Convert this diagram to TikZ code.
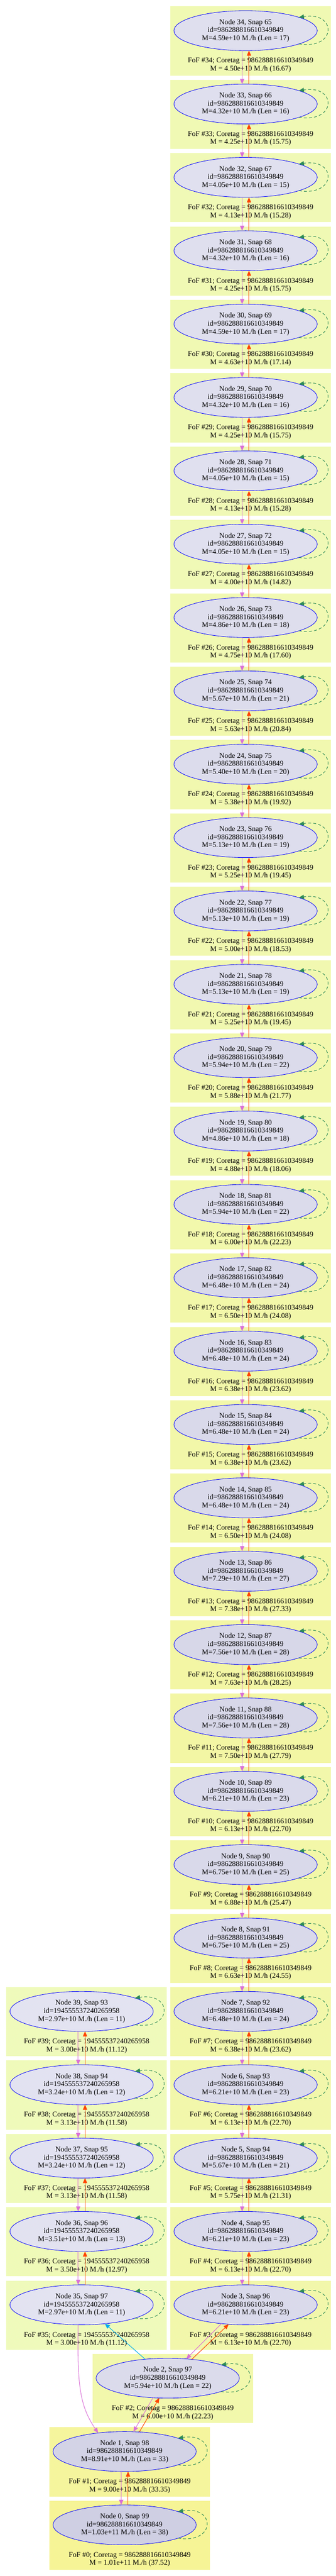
\documentclass[tikz,border=0pt]{standalone}
\usepackage{fontspec}
\setmainfont{Liberation Serif}
\usetikzlibrary{calc, positioning, shapes, arrows.meta, backgrounds}

\definecolor{halolo}{RGB}{227,227,241}
\definecolor{halohi}{RGB}{207,207,227}
\definecolor{foflo}{RGB}{239,250,187}
\definecolor{fofhi}{RGB}{246,244,150}
\definecolor{orchid}{RGB}{218,112,214}
\definecolor{orangered}{RGB}{255,69,0}
\definecolor{seagreen}{RGB}{46,139,87}

\tikzset{
    halo/.style={ellipse, draw=blue, line width=0.8pt, outer sep=0pt, inner sep=0pt,
        minimum width=267.75pt, minimum height=74.55pt, align=center,
        /utils/exec={\pgfmathtruncatemacro\lenmix{(#1-11)*100/27}}, fill=halohi!\lenmix!halolo},
    fof/.style={align=center},
    tip/.style={-{Triangle[length=9.5pt, width=8pt]}},
    prog/.style={tip, draw=orchid, line width=1pt},
    desc/.style={tip, draw=orangered, line width=1pt},
    jump/.style={tip, draw=cyan, line width=1pt},
    selfl/.style={tip, draw=seagreen, line width=1pt, dash pattern=on 5.5pt off 4pt}
}

\begin{document}
\begin{tikzpicture}[x=0.75pt, y=-0.75pt, node distance=62.4pt, font=\fontsize{13.7}{15}\selectfont]
                    \node[halo=17] (34) {Node 34, Snap 65\\id=986288816610349849\\M=4.59e+10 M./h (Len = 17)};
                    \node[halo=16] (33) [below=of 34] {Node 33, Snap 66\\id=986288816610349849\\M=4.32e+10 M./h (Len = 16)};
                    \node[halo=15] (32) [below=of 33] {Node 32, Snap 67\\id=986288816610349849\\M=4.05e+10 M./h (Len = 15)};
                    \node[halo=16] (31) [below=of 32] {Node 31, Snap 68\\id=986288816610349849\\M=4.32e+10 M./h (Len = 16)};
                    \node[halo=17] (30) [below=of 31] {Node 30, Snap 69\\id=986288816610349849\\M=4.59e+10 M./h (Len = 17)};
                    \node[halo=16] (29) [below=of 30] {Node 29, Snap 70\\id=986288816610349849\\M=4.32e+10 M./h (Len = 16)};
                    \node[halo=15] (28) [below=of 29] {Node 28, Snap 71\\id=986288816610349849\\M=4.05e+10 M./h (Len = 15)};
                    \node[halo=15] (27) [below=of 28] {Node 27, Snap 72\\id=986288816610349849\\M=4.05e+10 M./h (Len = 15)};
                    \node[halo=18] (26) [below=of 27] {Node 26, Snap 73\\id=986288816610349849\\M=4.86e+10 M./h (Len = 18)};
                    \node[halo=21] (25) [below=of 26] {Node 25, Snap 74\\id=986288816610349849\\M=5.67e+10 M./h (Len = 21)};
                    \node[halo=20] (24) [below=of 25] {Node 24, Snap 75\\id=986288816610349849\\M=5.40e+10 M./h (Len = 20)};
                    \node[halo=19] (23) [below=of 24] {Node 23, Snap 76\\id=986288816610349849\\M=5.13e+10 M./h (Len = 19)};
                    \node[halo=19] (22) [below=of 23] {Node 22, Snap 77\\id=986288816610349849\\M=5.13e+10 M./h (Len = 19)};
                    \node[halo=19] (21) [below=of 22] {Node 21, Snap 78\\id=986288816610349849\\M=5.13e+10 M./h (Len = 19)};
                    \node[halo=22] (20) [below=of 21] {Node 20, Snap 79\\id=986288816610349849\\M=5.94e+10 M./h (Len = 22)};
                    \node[halo=18] (19) [below=of 20] {Node 19, Snap 80\\id=986288816610349849\\M=4.86e+10 M./h (Len = 18)};
                    \node[halo=22] (18) [below=of 19] {Node 18, Snap 81\\id=986288816610349849\\M=5.94e+10 M./h (Len = 22)};
                    \node[halo=24] (17) [below=of 18] {Node 17, Snap 82\\id=986288816610349849\\M=6.48e+10 M./h (Len = 24)};
                    \node[halo=24] (16) [below=of 17] {Node 16, Snap 83\\id=986288816610349849\\M=6.48e+10 M./h (Len = 24)};
                    \node[halo=24] (15) [below=of 16] {Node 15, Snap 84\\id=986288816610349849\\M=6.48e+10 M./h (Len = 24)};
                    \node[halo=24] (14) [below=of 15] {Node 14, Snap 85\\id=986288816610349849\\M=6.48e+10 M./h (Len = 24)};
                    \node[halo=27] (13) [below=of 14] {Node 13, Snap 86\\id=986288816610349849\\M=7.29e+10 M./h (Len = 27)};
                    \node[halo=28] (12) [below=of 13] {Node 12, Snap 87\\id=986288816610349849\\M=7.56e+10 M./h (Len = 28)};
                    \node[halo=28] (11) [below=of 12] {Node 11, Snap 88\\id=986288816610349849\\M=7.56e+10 M./h (Len = 28)};
                    \node[halo=23] (10) [below=of 11] {Node 10, Snap 89\\id=986288816610349849\\M=6.21e+10 M./h (Len = 23)};
                    \node[halo=25] (9) [below=of 10] {Node 9, Snap 90\\id=986288816610349849\\M=6.75e+10 M./h (Len = 25)};
                    \node[halo=25] (8) [below=of 9] {Node 8, Snap 91\\id=986288816610349849\\M=6.75e+10 M./h (Len = 25)};
                    \node[halo=24] (7) [below=of 8] {Node 7, Snap 92\\id=986288816610349849\\M=6.48e+10 M./h (Len = 24)};
                    \node[halo=23] (6) [below=of 7] {Node 6, Snap 93\\id=986288816610349849\\M=6.21e+10 M./h (Len = 23)};
                    \node[halo=21] (5) [below=of 6] {Node 5, Snap 94\\id=986288816610349849\\M=5.67e+10 M./h (Len = 21)};
                    \node[halo=23] (4) [below=of 5] {Node 4, Snap 95\\id=986288816610349849\\M=6.21e+10 M./h (Len = 23)};
                    \node[halo=23] (3) [below=of 4] {Node 3, Snap 96\\id=986288816610349849\\M=6.21e+10 M./h (Len = 23)};

                    \node[halo=11] (39) [left=38.7pt of 7] {Node 39, Snap 93\\id=194555537240265958\\M=2.97e+10 M./h (Len = 11)};
                    \node[halo=12] (38) [below=of 39] {Node 38, Snap 94\\id=194555537240265958\\M=3.24e+10 M./h (Len = 12)};
                    \node[halo=12] (37) [below=of 38] {Node 37, Snap 95\\id=194555537240265958\\M=3.24e+10 M./h (Len = 12)};
                    \node[halo=13] (36) [below=of 37] {Node 36, Snap 96\\id=194555537240265958\\M=3.51e+10 M./h (Len = 13)};
                    \node[halo=11] (35) [below=of 36] {Node 35, Snap 97\\id=194555537240265958\\M=2.97e+10 M./h (Len = 11)};

                    \node[halo=22] (2) [below=of 3, xshift=-145.5pt] {Node 2, Snap 97\\id=986288816610349849\\M=5.94e+10 M./h (Len = 22)};
                    \node[halo=33] (1) [below=of 2, xshift=-80.55pt] {Node 1, Snap 98\\id=986288816610349849\\M=8.91e+10 M./h (Len = 33)};
                    \node[halo=38] (0) [below=of 1] {Node 0, Snap 99\\id=986288816610349849\\M=1.03e+11 M./h (Len = 38)};

                    \useasboundingbox ($(34)+(-612,-76.3)$) rectangle ($(34)+(225,6335.7)$);

                    \begin{scope}[on background layer]
                    \foreach \n/\l in {34/17, 33/16, 32/15, 31/16, 30/17, 29/16, 28/15, 27/15, 26/18, 25/21, 24/20, 23/19, 22/19, 21/19, 20/22, 19/18, 18/22, 17/24, 16/24, 15/24, 14/24, 13/27, 12/28, 11/28, 10/23, 9/25, 8/25, 7/24, 6/23, 5/21, 4/23, 3/23, 2/22, 1/33, 0/38, 39/11, 38/12, 37/12, 36/13, 35/11} {
                        \pgfmathtruncatemacro\lenmix{(\l-11)*100/27}
                        \fill[fofhi!\lenmix!foflo] ($(\n)+(-187.5,-60.3)$) rectangle ($(\n)+(212.7,111.7)$);
                    }
                    \end{scope}

                    \node[fof] (f34) at ($(34)+(12.6,86)$) {FoF \#34; Coretag = 986288816610349849\\M = 4.50e+10 M./h (16.67)};
                    \node[fof] (f33) at ($(33)+(12.6,86)$) {FoF \#33; Coretag = 986288816610349849\\M = 4.25e+10 M./h (15.75)};
                    \node[fof] (f32) at ($(32)+(12.6,86)$) {FoF \#32; Coretag = 986288816610349849\\M = 4.13e+10 M./h (15.28)};
                    \node[fof] (f31) at ($(31)+(12.6,86)$) {FoF \#31; Coretag = 986288816610349849\\M = 4.25e+10 M./h (15.75)};
                    \node[fof] (f30) at ($(30)+(12.6,86)$) {FoF \#30; Coretag = 986288816610349849\\M = 4.63e+10 M./h (17.14)};
                    \node[fof] (f29) at ($(29)+(12.6,86)$) {FoF \#29; Coretag = 986288816610349849\\M = 4.25e+10 M./h (15.75)};
                    \node[fof] (f28) at ($(28)+(12.6,86)$) {FoF \#28; Coretag = 986288816610349849\\M = 4.13e+10 M./h (15.28)};
                    \node[fof] (f27) at ($(27)+(12.6,86)$) {FoF \#27; Coretag = 986288816610349849\\M = 4.00e+10 M./h (14.82)};
                    \node[fof] (f26) at ($(26)+(12.6,86)$) {FoF \#26; Coretag = 986288816610349849\\M = 4.75e+10 M./h (17.60)};
                    \node[fof] (f25) at ($(25)+(12.6,86)$) {FoF \#25; Coretag = 986288816610349849\\M = 5.63e+10 M./h (20.84)};
                    \node[fof] (f24) at ($(24)+(12.6,86)$) {FoF \#24; Coretag = 986288816610349849\\M = 5.38e+10 M./h (19.92)};
                    \node[fof] (f23) at ($(23)+(12.6,86)$) {FoF \#23; Coretag = 986288816610349849\\M = 5.25e+10 M./h (19.45)};
                    \node[fof] (f22) at ($(22)+(12.6,86)$) {FoF \#22; Coretag = 986288816610349849\\M = 5.00e+10 M./h (18.53)};
                    \node[fof] (f21) at ($(21)+(12.6,86)$) {FoF \#21; Coretag = 986288816610349849\\M = 5.25e+10 M./h (19.45)};
                    \node[fof] (f20) at ($(20)+(12.6,86)$) {FoF \#20; Coretag = 986288816610349849\\M = 5.88e+10 M./h (21.77)};
                    \node[fof] (f19) at ($(19)+(12.6,86)$) {FoF \#19; Coretag = 986288816610349849\\M = 4.88e+10 M./h (18.06)};
                    \node[fof] (f18) at ($(18)+(12.6,86)$) {FoF \#18; Coretag = 986288816610349849\\M = 6.00e+10 M./h (22.23)};
                    \node[fof] (f17) at ($(17)+(12.6,86)$) {FoF \#17; Coretag = 986288816610349849\\M = 6.50e+10 M./h (24.08)};
                    \node[fof] (f16) at ($(16)+(12.6,86)$) {FoF \#16; Coretag = 986288816610349849\\M = 6.38e+10 M./h (23.62)};
                    \node[fof] (f15) at ($(15)+(12.6,86)$) {FoF \#15; Coretag = 986288816610349849\\M = 6.38e+10 M./h (23.62)};
                    \node[fof] (f14) at ($(14)+(12.6,86)$) {FoF \#14; Coretag = 986288816610349849\\M = 6.50e+10 M./h (24.08)};
                    \node[fof] (f13) at ($(13)+(12.6,86)$) {FoF \#13; Coretag = 986288816610349849\\M = 7.38e+10 M./h (27.33)};
                    \node[fof] (f12) at ($(12)+(12.6,86)$) {FoF \#12; Coretag = 986288816610349849\\M = 7.63e+10 M./h (28.25)};
                    \node[fof] (f11) at ($(11)+(12.6,86)$) {FoF \#11; Coretag = 986288816610349849\\M = 7.50e+10 M./h (27.79)};
                    \node[fof] (f10) at ($(10)+(12.6,86)$) {FoF \#10; Coretag = 986288816610349849\\M = 6.13e+10 M./h (22.70)};
                    \node[fof] (f9) at ($(9)+(12.6,86)$) {FoF \#9; Coretag = 986288816610349849\\M = 6.88e+10 M./h (25.47)};
                    \node[fof] (f8) at ($(8)+(12.6,86)$) {FoF \#8; Coretag = 986288816610349849\\M = 6.63e+10 M./h (24.55)};
                    \node[fof] (f7) at ($(7)+(12.6,86)$) {FoF \#7; Coretag = 986288816610349849\\M = 6.38e+10 M./h (23.62)};
                    \node[fof] (f6) at ($(6)+(12.6,86)$) {FoF \#6; Coretag = 986288816610349849\\M = 6.13e+10 M./h (22.70)};
                    \node[fof] (f5) at ($(5)+(12.6,86)$) {FoF \#5; Coretag = 986288816610349849\\M = 5.75e+10 M./h (21.31)};
                    \node[fof] (f4) at ($(4)+(12.6,86)$) {FoF \#4; Coretag = 986288816610349849\\M = 6.13e+10 M./h (22.70)};
                    \node[fof] (f3) at ($(3)+(12.6,86)$) {FoF \#3; Coretag = 986288816610349849\\M = 6.13e+10 M./h (22.70)};
                    \node[fof] (f2) at ($(2)+(12.6,86)$) {FoF \#2; Coretag = 986288816610349849\\M = 6.00e+10 M./h (22.23)};
                    \node[fof] (f1) at ($(1)+(12.6,86)$) {FoF \#1; Coretag = 986288816610349849\\M = 9.00e+10 M./h (33.35)};
                    \node[fof] (f0) at ($(0)+(12.6,86)$) {FoF \#0; Coretag = 986288816610349849\\M = 1.01e+11 M./h (37.52)};
                    \node[fof] (f39) at ($(39)+(12.6,86)$) {FoF \#39; Coretag = 194555537240265958\\M = 3.00e+10 M./h (11.12)};
                    \node[fof] (f38) at ($(38)+(12.6,86)$) {FoF \#38; Coretag = 194555537240265958\\M = 3.13e+10 M./h (11.58)};
                    \node[fof] (f37) at ($(37)+(12.6,86)$) {FoF \#37; Coretag = 194555537240265958\\M = 3.13e+10 M./h (11.58)};
                    \node[fof] (f36) at ($(36)+(12.6,86)$) {FoF \#36; Coretag = 194555537240265958\\M = 3.50e+10 M./h (12.97)};
                    \node[fof] (f35) at ($(35)+(12.6,86)$) {FoF \#35; Coretag = 194555537240265958\\M = 3.00e+10 M./h (11.12)};

                    \foreach \p in {34,33,...,4,39,38,37,36,1} {
                        \pgfmathtruncatemacro\q{\p-1}
                        \draw ([xshift=-6.4pt]\p.south) edge[prog] ([xshift=-6.4pt]\q.north);
                        \draw ([xshift=6.4pt]\q.north) edge[desc] ([xshift=6.4pt]\p.south);
                    }

                    \draw (3.218) edge[prog] (2.46);
                    \draw (2.38) edge[desc] (3.229);
                    \draw (2.140) edge[jump] (35.-39);
                    \draw[prog] ([xshift=-6.4pt]35.south) .. controls +(-2,144) and +(-48,-70) .. (1.145);
                    \draw (2.233) edge[prog] (1.66);
                    \draw (1.53) edge[desc] (2.247);

                    \foreach \n in {34,33,...,0,39,38,37,36,35}
                        \draw[selfl] (\n.-14) .. controls +(95,15) and +(95,-15) .. (\n.14);
                \end{tikzpicture}
\end{document}
